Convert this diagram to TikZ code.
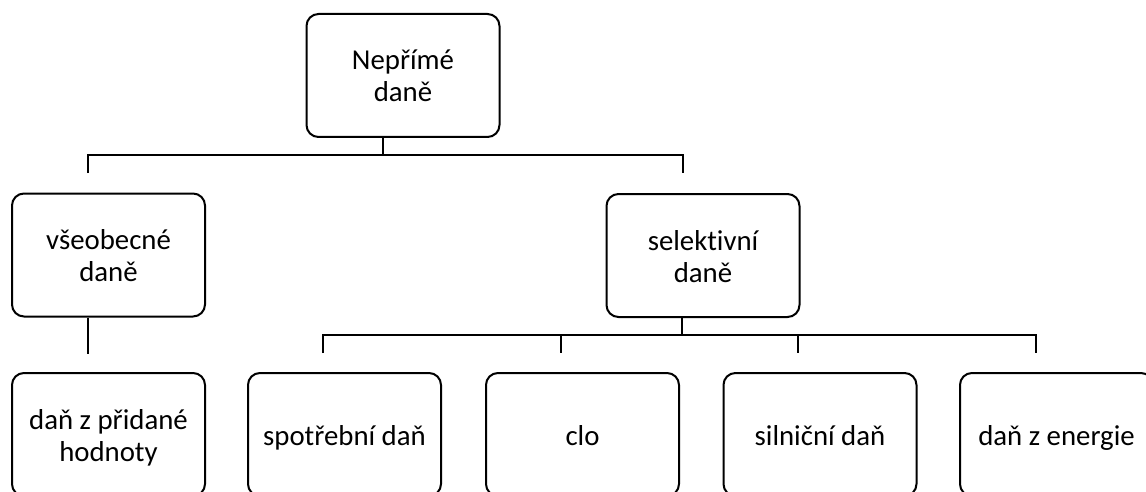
\documentclass[tikz,border=0pt]{standalone}
\usepackage{fontspec}
\setmainfont{Carlito}[Ligatures=NoCommon]
% invisible line strut so every line has the same height and depth
\newcommand\linestrut{\rule[-2.75pt]{0pt}{16pt}}
\begin{document}
\begin{tikzpicture}[x=0.5pt,y=-0.5pt,
  box/.style={draw, line width=1pt, rounded corners=6pt, minimum width=96.5pt,
    minimum height=61.5pt, align=center, inner sep=0pt,
    font=\fontsize{14.4pt}{16pt}\selectfont},
  link/.style={line width=1pt}]
\useasboundingbox (0,0) rectangle (1146,492);
\clip (0,0) rectangle (1146,492);
% boxes
\node[box] (top)  at (403,75.5)   {\linestrut Nepřímé\\\linestrut daně};
\node[box] (gen)  at (108.5,255)  {\linestrut všeobecné\\\linestrut daně};
\node[box] (sel)  at (703,255.5)  {\linestrut selektivní\\\linestrut daně};
\node[box] (vat)  at (108.5,434.5) {\linestrut daň z přidané\\\linestrut hodnoty};
\node[box] (exc)  at (344.5,434.5) {\linestrut spotřební daň};
\node[box] (clo)  at (582.5,434.5) {\linestrut clo};
\node[box] (road) at (820,434.5)   {\linestrut silniční daň};
\node[box] (enr)  at (1056.5,434.5) {\linestrut daň z energie};
% first level bus
\coordinate (bus1) at (383,155);
\draw[link] ([xshift=-10pt]top.south) -- (bus1);
\draw[link] (88,173) -- (88,155) -- (683,155) -- (683,173);
\draw[link] ([xshift=-10.25pt]gen.south) -- ++(0,36);
% second level bus
\coordinate (bus2) at (682,335);
\draw[line width=1.4pt] ([xshift=-10.5pt]sel.south) -- (bus2);
\draw[link] (323,353) -- (323,335) -- (1036,335) -- (1036,353);
\draw[link] (561,335) -- (561,353);
\draw[link] (798,335) -- (798,353);
\end{tikzpicture}
\end{document}
